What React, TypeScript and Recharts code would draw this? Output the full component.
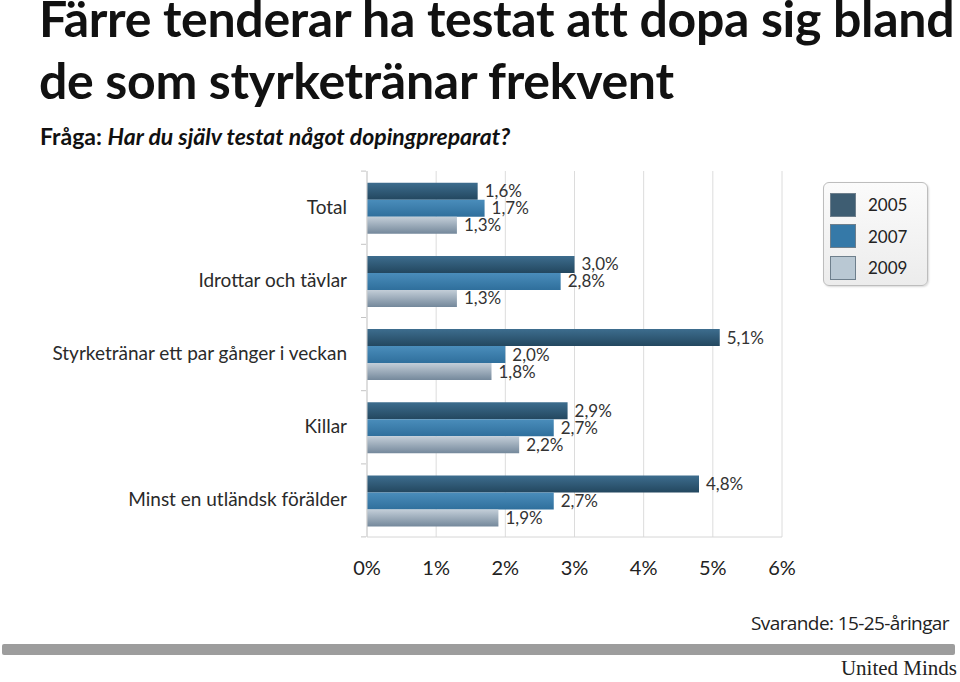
import React from "react";
import {
  BarChart,
  Bar,
  XAxis,
  YAxis,
  CartesianGrid,
  LabelList,
} from "recharts";

const categories = [
  "Total",
  "Idrottar och tävlar",
  "Styrketränar ett par gånger i veckan",
  "Killar",
  "Minst en utländsk förälder",
];
const years = ["2005", "2007", "2009"];
const values2005 = [1.6, 3.0, 5.1, 2.9, 4.8];
const values2007 = [1.7, 2.8, 2.0, 2.7, 2.7];
const values2009 = [1.3, 1.3, 1.8, 2.2, 1.9];
const xTicks = [0, 1, 2, 3, 4, 5, 6];

const chartData = categories.map((name, i) => ({
  name,
  "2005": values2005[i],
  "2007": values2007[i],
  "2009": values2009[i],
}));

const swatch: Record<string, string> = {
  "2005": "#3e5d72",
  "2007": "#3579a8",
  "2009": "#b9c8d3",
};

const fmt = (v: number) => `${v.toFixed(1).replace(".", ",")}%`;

// labels right-aligned left of the axis, small marks between the groups
function CategoryTick(props: any) {
  const { x, y, payload, index } = props;
  return (
    <g>
      <line x1={x + 2} x2={x + 7} y1={y - 36.5} y2={y - 36.5} stroke="#c4c4c4" />
      {index === 4 && (
        <line x1={x + 2} x2={x + 7} y1={y + 36.5} y2={y + 36.5} stroke="#c4c4c4" />
      )}
      <text
        x={x - 12}
        y={y}
        dy={6}
        textAnchor="end"
        fontFamily="Lato"
        fontSize={19}
        fill="#2a2a2a"
      >
        {payload.value}
      </text>
    </g>
  );
}

function PercentTick(props: any) {
  const { x, y, payload } = props;
  return (
    <text x={x} y={y} dy={30} textAnchor="middle" fontFamily="Lato" fontSize={20} fill="#222">
      {`${payload.value}%`}
    </text>
  );
}

function YearLegend() {
  return (
    <div
      style={{
        position: "absolute",
        left: 823,
        top: 182,
        width: 105,
        height: 104,
        border: "1px solid #bdbdbd",
        borderRadius: 6,
        background: "linear-gradient(#fbfbfb, #ececec)",
        boxShadow: "1px 1px 2px rgba(0,0,0,0.15)",
        boxSizing: "border-box",
        paddingTop: 6,
      }}
    >
      {years.map((y) => (
        <div key={y} style={{ display: "flex", alignItems: "center", height: 31.5 }}>
          <div
            style={{
              width: 26,
              height: 24,
              marginLeft: 6,
              background: swatch[y],
              border: "1px solid #6e7f8c",
              boxSizing: "border-box",
            }}
          />
          <span style={{ marginLeft: 12, fontFamily: "Lato", fontSize: 17, color: "#222" }}>{y}</span>
        </div>
      ))}
    </div>
  );
}

export default function App() {
  const titleStyle: React.CSSProperties = {
    position: "absolute",
    left: 39,
    fontFamily: "Lato",
    fontWeight: 700,
    fontSize: 50,
    lineHeight: "38px",
    color: "#111",
    letterSpacing: -0.3,
    whiteSpace: "nowrap",
  };
  return (
    <div
      style={{
        position: "absolute",
        left: 0,
        top: 0,
        width: 960,
        height: 682,
        background: "#fff",
        overflow: "hidden",
      }}
    >
      <div style={{ ...titleStyle, top: -1 }}>Färre tenderar ha testat att dopa sig bland</div>
      <div style={{ ...titleStyle, top: 61 }}>de som styrketränar frekvent</div>
      <div
        style={{
          position: "absolute",
          left: 40,
          top: 122,
          fontFamily: "Lato",
          fontWeight: 700,
          fontSize: 23,
          color: "#111",
          whiteSpace: "nowrap",
        }}
      >
        Fråga: <i>Har du själv testat något dopingpreparat?</i>
      </div>

      <BarChart
        width={960}
        height={682}
        data={chartData}
        layout="vertical"
        margin={{ top: 171, right: 178, bottom: 100, left: 0 }}
        barCategoryGap="16%"
        barGap={0}
      >
        <defs>
          <linearGradient id="g2005" x1="0" y1="0" x2="0" y2="1">
            <stop offset="0%" stopColor="#3d6d8e" />
            <stop offset="100%" stopColor="#23475f" />
          </linearGradient>
          <linearGradient id="g2007" x1="0" y1="0" x2="0" y2="1">
            <stop offset="0%" stopColor="#4a8dbb" />
            <stop offset="100%" stopColor="#2f6f9c" />
          </linearGradient>
          <linearGradient id="g2009" x1="0" y1="0" x2="0" y2="1">
            <stop offset="0%" stopColor="#c3ced8" />
            <stop offset="100%" stopColor="#74889b" />
          </linearGradient>
        </defs>
        <CartesianGrid horizontal={false} stroke="#dcdcdc" />
        <XAxis
          type="number"
          domain={[0, 6]}
          ticks={xTicks}
          height={45}
          tickLine={false}
          axisLine={{ stroke: "#d6d6d6" }}
          tick={<PercentTick />}
          interval={0}
        />
        <XAxis
          xAxisId="top"
          orientation="top"
          type="number"
          domain={[0, 6]}
          height={0}
          tick={false}
          tickLine={false}
          axisLine={{ stroke: "#e2e2e2" }}
        />
        <YAxis
          type="category"
          dataKey="name"
          width={367}
          tickLine={false}
          axisLine={{ stroke: "#cfcfcf" }}
          tick={<CategoryTick />}
          interval={0}
        />
        {years.map((y) => (
          <Bar key={y} dataKey={y} fill={`url(#g${y})`} isAnimationActive={false}>
            <LabelList
              dataKey={y}
              position="right"
              offset={7}
              formatter={(v: any) => fmt(Number(v))}
              style={{ fontFamily: "Lato", fontSize: 17, fill: "#333" }}
            />
          </Bar>
        ))}
      </BarChart>

      <YearLegend />

      <div
        style={{
          position: "absolute",
          right: 11,
          top: 610,
          fontFamily: "'Open Sans'",
          fontSize: 19,
          letterSpacing: -0.6,
          color: "#222",
          whiteSpace: "nowrap",
        }}
      >
        Svarande: 15-25-åringar
      </div>
      <div
        style={{
          position: "absolute",
          left: 2,
          top: 644,
          width: 953,
          height: 11,
          background: "#9d9d9d",
          borderRadius: 2,
        }}
      />
      <div
        style={{
          position: "absolute",
          right: 3,
          top: 656,
          fontFamily: "'Liberation Serif'",
          fontSize: 21,
          color: "#222",
          whiteSpace: "nowrap",
        }}
      >
        United Minds
      </div>
    </div>
  );
}
